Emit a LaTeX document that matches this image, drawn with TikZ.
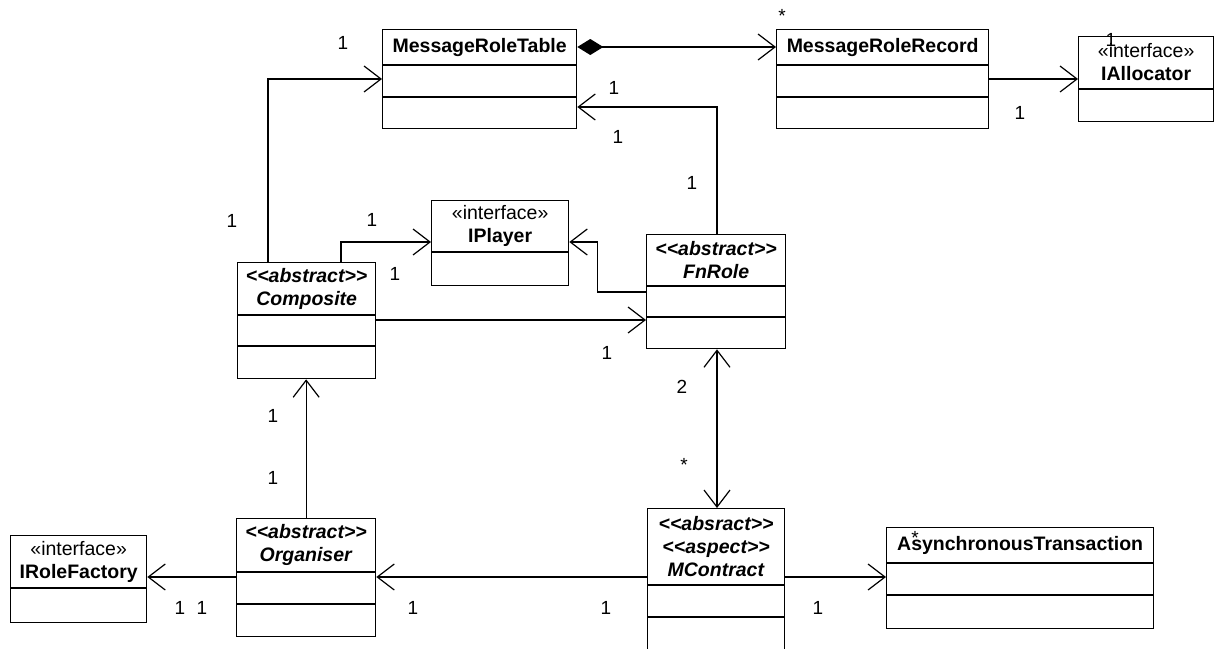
\documentclass[tikz,border=0pt]{standalone}
\usepackage{fontspec}
\setmainfont{Liberation Sans}
\usetikzlibrary{arrows.meta,calc}
\tikzset{
  x=1pt, y=-1pt,
  box/.style={draw, line width=1.3pt, rectangle, inner sep=0pt, fill=white},
  divline/.style={line width=1.3pt},
  ctext/.style={align=center, font=\fontsize{19.5}{23}\selectfont, inner sep=0pt},
  lbl/.style={font=\fontsize{19}{21}\selectfont, inner sep=0pt},
  barb/.tip={Straight Barb[length=17pt,width=26pt,line width=1.2pt]},
  assoc/.style={line width=1.3pt, -barb},
  bidir/.style={line width=1.3pt, barb-barb},
  compo/.style={line width=1.3pt, {Diamond[length=26pt,width=16pt]}-barb},
}
\newcommand\umlclassthree[8]{%
  \node[box, minimum width=#4pt, minimum height=#5pt, anchor=north west] (#1) at (#2,#3) {};
  \draw[divline] ([yshift=-#6pt]#1.north west) -- ([yshift=-#6pt]#1.north east);
  \draw[divline] ([yshift=-#7pt]#1.north west) -- ([yshift=-#7pt]#1.north east);
  \node[ctext] (#1-name) at ([yshift=-0.5*#6pt]#1.north) {#8};
}
\newcommand\umlclasstwo[7]{%
  \node[box, minimum width=#4pt, minimum height=#5pt, anchor=north west] (#1) at (#2,#3) {};
  \draw[divline] ([yshift=-#6pt]#1.north west) -- ([yshift=-#6pt]#1.north east);
  \node[ctext] (#1-name) at ([yshift=-0.5*#6pt]#1.north) {#7};
}
\newcommand\abst[1]{\textbf{\textit{#1}}}
\newcommand\stereo[1]{\abst{<{}<#1>{}>}}
\begin{document}
\begin{tikzpicture}
\useasboundingbox[fill=white] (0,0) rectangle (1215,648);

% classes
\umlclassthree{mrt}{382}{29}{194}{99}{36}{68}{\textbf{MessageRoleTable}}
\umlclassthree{mrr}{776}{29}{212}{99}{36}{68}{\textbf{MessageRoleRecord}}
\umlclasstwo{ialloc}{1078}{36}{135}{85}{53}{«interface»\\\textbf{IAllocator}}
\umlclasstwo{iplayer}{431}{200}{137}{85}{52}{«interface»\\\textbf{IPlayer}}
\umlclassthree{fnrole}{646}{234}{139}{114}{52}{83}{\stereo{abstract}\\\abst{FnRole}}
\umlclassthree{comp}{237}{262}{138}{116}{53}{84}{\stereo{abstract}\\\abst{Composite}}
\umlclassthree{org}{236}{518}{139}{118}{54}{86}{\stereo{abstract}\\\abst{Organiser}}
\umlclasstwo{irf}{10}{535}{136}{87}{53}{«interface»\\\textbf{IRoleFactory}}
\umlclassthree{mc}{647}{508}{137}{142}{77}{109}{\stereo{absract}\\\stereo{aspect}\\\abst{MContract}}
\umlclassthree{at}{886}{527}{267}{101}{36}{68}{\textbf{AsynchronousTransaction}}

% connectors
\draw[compo] ([yshift=-18pt]mrt.north east) -- ([yshift=-18pt]mrr.north west);
\draw[assoc] ([yshift=-50pt]mrr.north east) -- ([yshift=-43pt]ialloc.north west);
\draw[assoc] ([xshift=31pt]comp.north west) |- ([yshift=-50pt]mrt.north west);
\draw[assoc] ([xshift=71pt]fnrole.north west) |- ([yshift=-78pt]mrt.north east);
\draw[assoc] ([xshift=104pt]comp.north west) |- ([yshift=-42pt]iplayer.north west);
\coordinate (bend) at ($([yshift=-42pt]iplayer.north east)+(28,0)$);
\draw[assoc] ([yshift=-58pt]fnrole.north west) -| (bend) -- ([yshift=-42pt]iplayer.north east);
\draw[assoc] ([yshift=-58pt]comp.north east) -- ([yshift=-86pt]fnrole.north west);
\draw[bidir] ([xshift=71pt]fnrole.south west) -- ([xshift=70pt]mc.north west);
\draw[assoc] (org.north) -- (org.north |- comp.south);
\draw[assoc] ([yshift=-59pt]org.north west) -- ([yshift=-42pt]irf.north east);
\draw[assoc] ([yshift=-69pt]mc.north west) -- ([yshift=-59pt]org.north east);
\draw[assoc] ([yshift=-69pt]mc.north east) -- ([yshift=-50pt]at.north west);

% multiplicity labels
\node[lbl] (l1) at (343,43) {1};
\node[lbl] (l2) at (782,16) {*};
\node[lbl] (l3) at (1020,113) {1};
\node[lbl] (l4) at (1111,40) {1};
\node[lbl] (l5) at (232,221) {1};
\node[lbl] (l6) at (614,88) {1};
\node[lbl] (l7) at (618,137) {1};
\node[lbl] (l8) at (692,183) {1};
\node[lbl] (l9) at (372,220) {1};
\node[lbl] (l10) at (395,274) {1};
\node[lbl] (l11) at (607,353) {1};
\node[lbl] (l12) at (682,387) {2};
\node[lbl] (l13) at (684,465) {*};
\node[lbl] (l14) at (273,416) {1};
\node[lbl] (l15) at (273,478) {1};
\node[lbl] (l16) at (180,608) {1};
\node[lbl] (l17) at (202,608) {1};
\node[lbl] (l18) at (413,608) {1};
\node[lbl] (l19) at (606,608) {1};
\node[lbl] (l20) at (818,608) {1};
\node[lbl] (l21) at (915,538) {*};
\end{tikzpicture}
\end{document}
